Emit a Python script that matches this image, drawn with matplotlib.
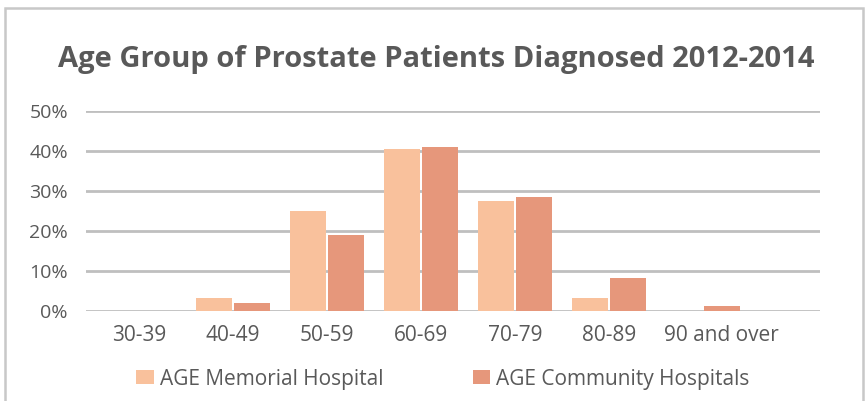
import numpy as np
import matplotlib
matplotlib.use('Agg')
import matplotlib.pyplot as plt
import matplotlib.transforms as mtransforms
from matplotlib.patches import Rectangle
from matplotlib.ticker import PercentFormatter

plt.rcParams['font.family'] = ['Open Sans', 'DejaVu Sans']

age_groups = ['30-39', '40-49', '50-59', '60-69', '70-79', '80-89', '90 and over']
memorial = [0.0, 3.3, 25.1, 40.4, 27.4, 3.3, 0.0]
community = [0.0, 2.1, 18.9, 41.1, 28.4, 8.3, 1.3]
series_names = ['AGE Memorial Hospital', 'AGE Community Hospitals']

text_col = '#595959'
grid_col = '#BFBFBF'
c_mem = '#F9C19C'
c_com = '#E6977B'

fig = plt.figure(figsize=(8.67, 4.01), dpi=100)
ax = fig.add_axes([86/867, 1-311/401, (820-86)/867, 200/401])

x = np.arange(len(age_groups))
w = 0.383
off = 0.207
ax.bar(x - off, memorial, w, color=c_mem, label=series_names[0], zorder=3)
ax.bar(x + off, community, w, color=c_com, label=series_names[1], zorder=3)

ax.set_ylim(0, 50)
ax.set_xlim(-0.564, 7.245)
ax.set_yticks(range(0, 51, 10))
ax.yaxis.set_major_formatter(PercentFormatter(decimals=0))
ax.set_xticks(x)
ax.set_xticklabels(age_groups)
ax.grid(axis='y', color=grid_col, linewidth=2, zorder=0)
ax.tick_params(length=0, colors=text_col)
ax.tick_params(axis='y', labelsize=14, pad=13)
ax.tick_params(axis='x', labelsize=15, pad=10)
for s in ax.spines.values():
    s.set_visible(False)

# the last label sits a little further right in the original
last = ax.get_xticklabels()[-1]
last.set_transform(last.get_transform() + mtransforms.ScaledTranslation(0.18, 0, fig.dpi_scale_trans))

fig.text(436/867, 1-59/401, 'Age Group of Prostate Patients Diagnosed 2012-2014',
         ha='center', va='center', fontsize=21, fontweight='bold', color=text_col)

fig.legend(loc='center', bbox_to_anchor=(443/867, 1-379/401), ncol=2, frameon=False,
           fontsize=15, labelcolor=text_col, handlelength=0.82, handleheight=0.63,
           handletextpad=0.3, columnspacing=4.3)

fig.patches.append(Rectangle((5/867, -0.1), (863-5)/867, 1.1-8/401, transform=fig.transFigure,
                             fill=False, edgecolor='#C8C8C8', linewidth=1.8))

fig.savefig('out.png', dpi=100)
